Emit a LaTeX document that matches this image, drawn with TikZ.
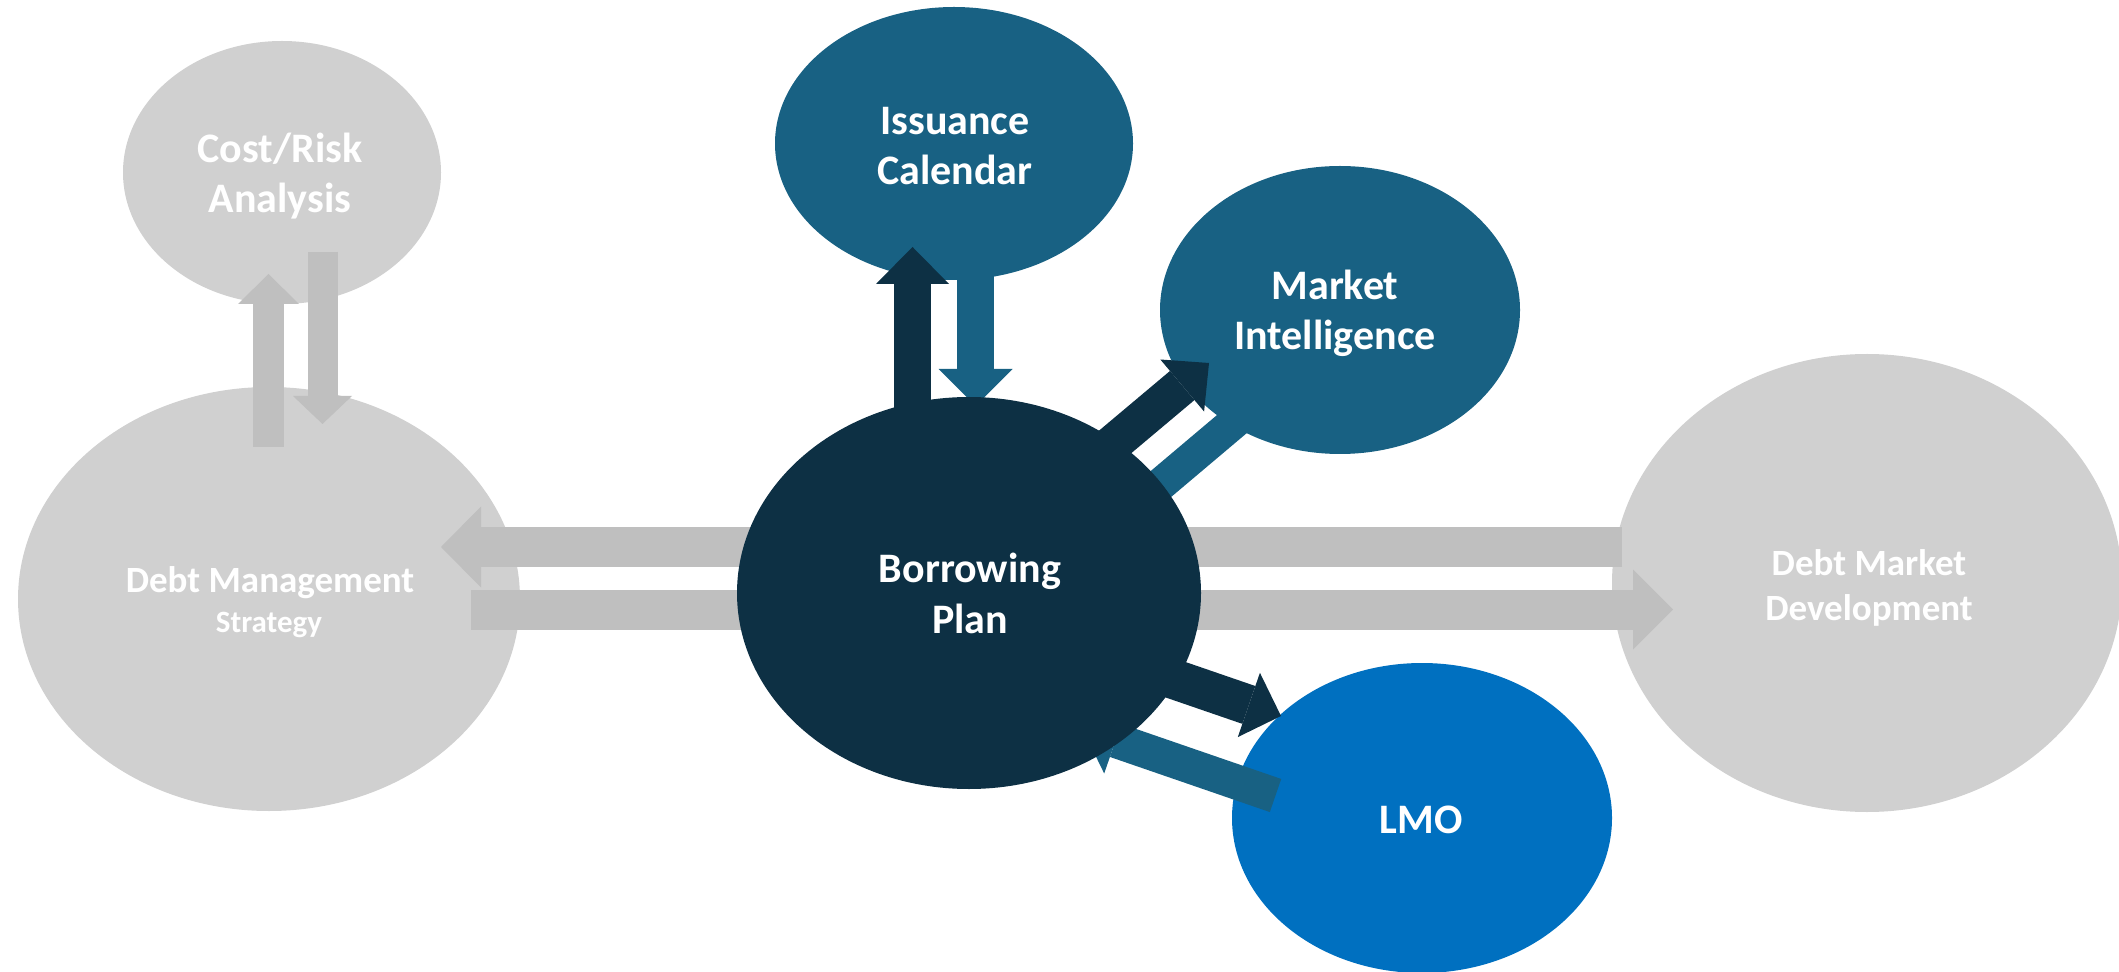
\documentclass[tikz,border=0pt]{standalone}
\usepackage{fontspec}
\newfontfamily\labelfont{Carlito}
\usetikzlibrary{arrows.meta,shapes.geometric}
\definecolor{ovalgray}{HTML}{D0D0D0}
\definecolor{flowgray}{HTML}{BFBFBF}
\definecolor{navyblue}{HTML}{0D3044}
\definecolor{steelblue}{HTML}{186183}
\definecolor{lmoblue}{HTML}{0070C0}
\begin{document}
\begin{tikzpicture}[x=0.5pt,y=-0.5pt,
  oval/.style={ellipse, inner sep=0pt, outer sep=0pt},
  flow/.style n args={4}{draw=#1, line width=#2,
    -{Triangle[width=#3,length=#4,line width=0pt]}},
  lab/.style={anchor=base, text=white, inner sep=0pt,
    font=\labelfont\bfseries\fontsize{21}{25}\selectfont},
  grlab/.style={lab, font=\labelfont\bfseries\fontsize{18.5}{22}\selectfont},
  smlab/.style={lab, font=\labelfont\bfseries\fontsize{15.5}{18}\selectfont}]
\useasboundingbox (0,0) rectangle (2119,972);

% grey outer topics
\node[oval, fill=ovalgray, minimum width=159pt, minimum height=131.5pt] (cr) at (282,172.5) {};
\node[oval, fill=ovalgray, minimum width=251pt, minimum height=212pt] (dm) at (269,599) {};
\node[oval, fill=ovalgray, minimum width=255pt, minimum height=229pt] (dmd) at (1867,583) {};

% grey links
\coordinate (cru0) at (268.5,447);  \coordinate (cru1) at (268.5,274);
\coordinate (crd0) at (322.5,252);  \coordinate (crd1) at (322.5,424);
\coordinate (hl0) at (1622,547);    \coordinate (hl1) at (441,547);
\coordinate (hr0) at (471,609.5);   \coordinate (hr1) at (1673,609.5);
\draw[flow={flowgray}{15.5pt}{30.5pt}{15pt}] (cru0) -- (cru1);
\draw[flow={flowgray}{15pt}{29.5pt}{14pt}] (crd0) -- (crd1);
\draw[flow={flowgray}{20pt}{40.5pt}{20pt}] (hl0) -- (hl1);
\draw[flow={flowgray}{20pt}{40pt}{20pt}] (hr0) -- (hr1);

% blue topics
\node[oval, fill=steelblue, minimum width=179pt, minimum height=136.5pt] (ic) at (954,143.5) {};
\node[oval, fill=steelblue, minimum width=180pt, minimum height=144pt] (mi) at (1340,310) {};
\node[oval, fill=lmoblue, minimum width=190pt, minimum height=155pt] (lmo) at (1422,818) {};

% inflows to the borrowing plan
\coordinate (id0) at (975.5,200);   \coordinate (id1) at (975.5,406);
\coordinate (mt0) at (1277,386);    \coordinate (mt1) at (1078,554);
\coordinate (lt0) at (1275.5,795.5);\coordinate (lt1) at (1082.5,729);
\draw[flow={steelblue}{18.5pt}{37pt}{18.5pt}] (id0) -- (id1);
\draw[flow={steelblue}{16.5pt}{35pt}{17.5pt}] (mt0) -- (mt1);
\draw[flow={steelblue}{17.5pt}{35pt}{17.5pt}] (lt0) -- (lt1);

% central topic
\node[oval, fill=navyblue, minimum width=232pt, minimum height=196pt] (bp) at (969,593) {};

% outflows from the borrowing plan
\coordinate (iu0) at (912.5,450);   \coordinate (iu1) at (912.5,247);
\coordinate (md0) at (1071,479);    \coordinate (md1) at (1209,363);
\coordinate (ld0) at (1092,651);    \coordinate (ld1) at (1281,716);
\draw[flow={navyblue}{18.5pt}{36.5pt}{18.5pt}] (iu0) -- (iu1);
\draw[flow={navyblue}{19pt}{34pt}{17.5pt}] (md0) -- (md1);
\draw[flow={navyblue}{20pt}{34pt}{17pt}] (ld0) -- (ld1);

% labels
\node[lab] (crt1) at (280,163) {Cost/Risk};
\node[lab] (crt2) at (280,213) {Analysis};
\node[lab] (ict1) at (955,135) {Issuance};
\node[lab] (ict2) at (955,185) {Calendar};
\node[lab] (mit1) at (1335,300) {Market};
\node[lab] (mit2) at (1335,350) {Intelligence};
\node[grlab] (dmt1) at (270,592) {Debt Management};
\node[smlab] (dmt2) at (269,632) {Strategy};
\node[lab] (bpt1) at (970,582) {Borrowing};
\node[lab] (bpt2) at (970,633) {Plan};
\node[grlab] (dmdt1) at (1869,575) {Debt Market};
\node[grlab] (dmdt2) at (1869,620) {Development};
\node[lab] (lmot) at (1421,833) {LMO};
\end{tikzpicture}
\end{document}
